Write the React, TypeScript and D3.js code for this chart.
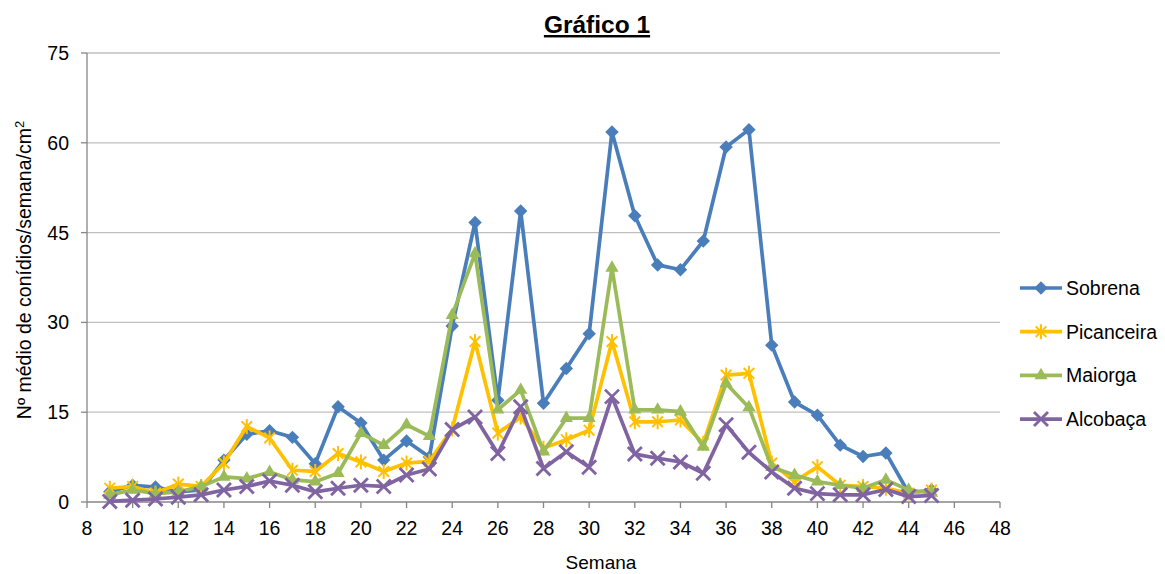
import * as d3 from 'd3';

const weeks = [9, 10, 11, 12, 13, 14, 15, 16, 17, 18, 19, 20, 21, 22, 23, 24, 25, 26, 27, 28, 29, 30, 31, 32, 33, 34, 35, 36, 37, 38, 39, 40, 41, 42, 43, 44, 45];

const sobrena = [1.7, 2.8, 2.5, 1.7, 2.0, 7.0, 11.3, 11.9, 10.8, 6.4, 15.9, 13.2, 7.0, 10.2, 7.5, 29.4, 46.7, 17.0, 48.6, 16.5, 22.3, 28.1, 61.8, 47.8, 39.6, 38.8, 43.6, 59.3, 62.2, 26.2, 16.7, 14.5, 9.5, 7.6, 8.2, 1.5, 2.0];
const picanceira = [2.3, 2.6, 1.5, 3.0, 2.6, 6.5, 12.6, 10.7, 5.3, 5.1, 8.1, 6.7, 5.1, 6.5, 6.8, 12.2, 26.8, 11.5, 14.2, 9.0, 10.4, 12.0, 26.8, 13.4, 13.4, 13.7, 9.8, 21.2, 21.5, 6.5, 3.4, 5.9, 2.8, 2.6, 2.3, 1.5, 2.0];
const maiorga = [1.2, 2.0, 1.4, 1.7, 2.6, 4.2, 3.9, 5.0, 3.7, 3.4, 4.8, 11.5, 9.5, 12.9, 11.0, 31.2, 41.5, 15.4, 18.7, 8.4, 14.0, 14.0, 39.1, 15.4, 15.4, 15.1, 9.2, 19.8, 15.8, 5.8, 4.5, 3.4, 2.8, 2.3, 3.7, 2.0, 1.5];
const alcobaca = [0.1, 0.3, 0.5, 0.8, 1.2, 2.0, 2.6, 3.5, 2.8, 1.7, 2.3, 2.8, 2.6, 4.5, 5.5, 12.1, 14.2, 8.1, 15.9, 5.6, 8.4, 5.8, 17.6, 8.0, 7.3, 6.7, 4.8, 12.9, 8.3, 5.0, 2.3, 1.4, 1.2, 1.2, 2.1, 0.9, 1.1];

const seriesNames = ['Sobrena', 'Picanceira', 'Maiorga', 'Alcobaça'];
const seriesColors = ['#4A7EBB', '#FFC000', '#9BBB59', '#8064A2'];
const seriesMarkers = ['diamond', 'star', 'triangle', 'x'];
const seriesValues = [sobrena, picanceira, maiorga, alcobaca];

const xTicks = d3.range(8, 49, 2);
const yTicks = [0, 15, 30, 45, 60, 75];

const FONT = '"Liberation Sans", Arial, sans-serif';

function Marker({ kind, x, y, color }: { kind: string; x: number; y: number; color: string }) {
  if (kind === 'diamond') {
    const p = d3.symbol().type(d3.symbolDiamond2).size(115)();
    return <path d={p || ''} transform={`translate(${x},${y})`} fill={color} />;
  }
  if (kind === 'triangle') {
    const p = d3.symbol().type(d3.symbolTriangle2).size(125)();
    return <path d={p || ''} transform={`translate(${x},${y})`} fill={color} />;
  }
  if (kind === 'star') {
    const r = 7.5;
    const d = r * 0.71;
    return (
      <g transform={`translate(${x},${y})`} stroke={color} strokeWidth={2}>
        <line x1={0} y1={-r} x2={0} y2={r} />
        <line x1={-d} y1={-d} x2={d} y2={d} />
        <line x1={-d} y1={d} x2={d} y2={-d} />
      </g>
    );
  }
  const r = 7;
  return (
    <g transform={`translate(${x},${y})`} stroke={color} strokeWidth={2.8}>
      <line x1={-r} y1={-r} x2={r} y2={r} />
      <line x1={-r} y1={r} x2={r} y2={-r} />
    </g>
  );
}

export default function App() {
  const width = 1165;
  const height = 574;
  const left = 87;
  const right = 1000;
  const top = 53;
  const bottom = 502;

  const x = d3.scaleLinear().domain([8, 48]).range([left, right]);
  const y = d3.scaleLinear().domain([0, 75]).range([bottom, top]);

  const line = d3.line<number>()
    .x((_, i) => x(weeks[i]))
    .y((d) => y(d));

  return (
    <svg width={width} height={height} style={{ position: 'absolute', left: 0, top: 0, fontFamily: FONT }}>
      <rect width={width} height={height} fill="#fff" />
      <text x={597} y={33} textAnchor="middle" fontSize={24.5} fontWeight="bold" textDecoration="underline">Gráfico 1</text>

      {yTicks.filter((t) => t > 0).map((t) => (
        <line key={t} x1={left} x2={right} y1={y(t)} y2={y(t)} stroke="#BFBFBF" strokeWidth={1.3} />
      ))}

      <line x1={left} x2={left} y1={top} y2={bottom} stroke="#868686" strokeWidth={1.3} />
      <line x1={left} x2={right} y1={bottom} y2={bottom} stroke="#868686" strokeWidth={1.3} />

      {yTicks.map((t) => (
        <g key={t}>
          <line x1={left - 6} x2={left} y1={y(t)} y2={y(t)} stroke="#868686" strokeWidth={1.3} />
          <text x={69} y={y(t)} dy="0.36em" textAnchor="end" fontSize={19.5} fill="#000">{t}</text>
        </g>
      ))}

      {xTicks.map((t) => (
        <g key={t}>
          <line x1={x(t)} x2={x(t)} y1={bottom} y2={bottom + 6} stroke="#868686" strokeWidth={1.3} />
          <text x={x(t)} y={535} textAnchor="middle" fontSize={19.5} fill="#000">{t}</text>
        </g>
      ))}

      <text x={601} y={569} textAnchor="middle" fontSize={19}>Semana</text>
      <text transform="translate(31,270) rotate(-90)" textAnchor="middle" fontSize={19.5}>
        Nº médio de conídios/semana/cm<tspan dy={-7} fontSize={13}>2</tspan>
      </text>

      {seriesValues.map((vals, si) => (
        <g key={seriesNames[si]}>
          <path d={line(vals) || ''} fill="none" stroke={seriesColors[si]} strokeWidth={3.7} strokeLinejoin="round" />
          {vals.map((v, i) => (
            <Marker key={i} kind={seriesMarkers[si]} x={x(weeks[i])} y={y(v)} color={seriesColors[si]} />
          ))}
        </g>
      ))}

      {seriesNames.map((n, i) => {
        const ly = 288 + i * 43.7;
        return (
          <g key={n}>
            <line x1={1020} x2={1062} y1={ly} y2={ly} stroke={seriesColors[i]} strokeWidth={3.7} />
            <Marker kind={seriesMarkers[i]} x={1041} y={ly} color={seriesColors[i]} />
            <text x={1066} y={ly} dy="0.36em" fontSize={19.5}>{n}</text>
          </g>
        );
      })}
    </svg>
  );
}
